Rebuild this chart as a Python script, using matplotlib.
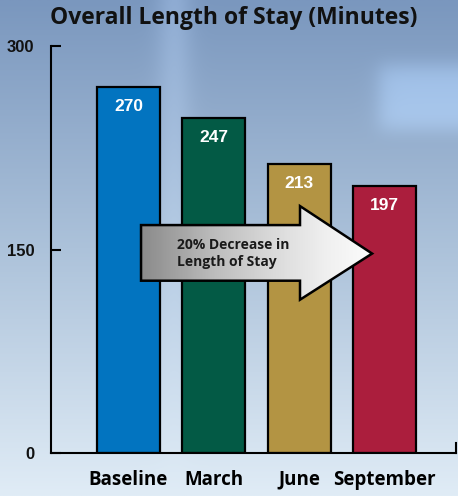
import numpy as np
import matplotlib.pyplot as plt
from matplotlib.patches import Polygon

# chart data
categories = ["Baseline", "March", "June", "September"]
minutes = [270, 247, 213, 197]
bar_colors = ["#0274c0", "#035a45", "#b39443", "#ab1e3d"]
y_ticks = [0, 150, 300]

W, H, DPI = 458, 496, 100
fig = plt.figure(figsize=(W / DPI, H / DPI), dpi=DPI)

# background: blue gradient, lighter towards the bottom
bg = fig.add_axes([0, 0, 1, 1])
bg.set_axis_off()
t = np.linspace(0, 1, 300)[:, None]
top = np.array([122, 151, 190]) / 255
mid = np.array([172, 194, 218]) / 255
bot = np.array([224, 236, 246]) / 255
col = np.where(t < 0.5, top + (mid - top) * (t / 0.5), mid + (bot - mid) * ((t - 0.5) / 0.5))
img = np.repeat(col[:, None, :], 200, axis=1)
xs = np.linspace(0, 1, 200)
# soft light streak near the left-centre and a bright patch at upper right
streak = 0.08 * np.exp(-((xs - 0.38) / 0.04) ** 2)
img = img + streak[None, :, None] * (1 - t[:, :, None])
yy = np.linspace(0, 1, 300)[:, None]
xx = xs[None, :]
px = 1 / (1 + np.exp(-(xx - 0.83) / 0.012))
py = np.exp(-((yy - 0.195) / 0.07) ** 4)
patch = 0.13 * px * py
img = np.clip(img + patch[:, :, None] * np.array([0.7, 0.85, 1.0]), 0, 1)
bg.imshow(img, aspect="auto", extent=[0, 1, 0, 1], interpolation="bilinear")
bg.set_xlim(0, 1)
bg.set_ylim(0, 1)

ax = fig.add_axes([51 / W, 1 - 453 / H, (456 - 51) / W, (453 - 46) / H])
ax.patch.set_alpha(0)
x = np.arange(len(categories))
ax.bar(x, minutes, width=0.74, color=bar_colors, edgecolor="black", linewidth=1.6, zorder=2)

for xi, v in zip(x, minutes):
    ax.text(xi, v - 9, str(v), ha="center", va="top", color="white",
            fontsize=12.5, fontweight="bold", family="Liberation Sans", zorder=4)

ax.set_xlim(-0.908, 3.838)
ax.set_ylim(0, 300)
ax.set_yticks(y_ticks)
ax.set_yticklabels([str(v) for v in y_ticks], fontsize=12, fontweight="bold",
                   family="Liberation Sans", color="#111111")
ax.tick_params(axis="y", direction="in", length=7, width=1.5, pad=12)
ax.set_xticks(x)
ax.set_xticklabels(categories, fontsize=13.5, fontweight="bold", family="Open Sans")
ax.tick_params(axis="x", length=0, pad=12)
for s in ["top", "right"]:
    ax.spines[s].set_visible(False)
for s in ["left", "bottom"]:
    ax.spines[s].set_linewidth(1.5)
# small upturn at right end of baseline
ax.plot([1, 1], [0, 0.025], color="black", lw=1.5, transform=ax.transAxes, clip_on=False)

# gradient arrow annotation
arrow = Polygon([(0.147, 168), (2.01, 168), (2.01, 182), (2.855, 147),
                 (2.01, 113), (2.01, 127), (0.147, 127)],
                closed=True, facecolor="none", edgecolor="black", linewidth=1.8, zorder=5)
ax.add_patch(arrow)
grad = np.linspace(0, 1, 256)[None, :]
gimg = ax.imshow(grad, cmap="Greys_r", vmin=-0.9, vmax=1.05, aspect="auto",
                 extent=[0.147, 2.855, 113, 182], zorder=4, interpolation="bilinear")
clip = Polygon(arrow.get_xy(), closed=True, transform=ax.transData)
gimg.set_clip_path(clip)
ax.set_xlim(-0.908, 3.838)
ax.set_ylim(0, 300)
ax.text(0.57, 147, "20% Decrease in\nLength of Stay", ha="left", va="center",
        fontsize=10, fontweight="bold", family="Open Sans", color="#1a1a1a",
        linespacing=1.25, zorder=6)

fig.text(0.5 + 5 / W, 1 - 18 / H, "Overall Length of Stay (Minutes)", ha="center", va="center",
         fontsize=16.5, fontweight="bold", family="Open Sans", color="#111111")

fig.savefig("out.png", dpi=DPI)
